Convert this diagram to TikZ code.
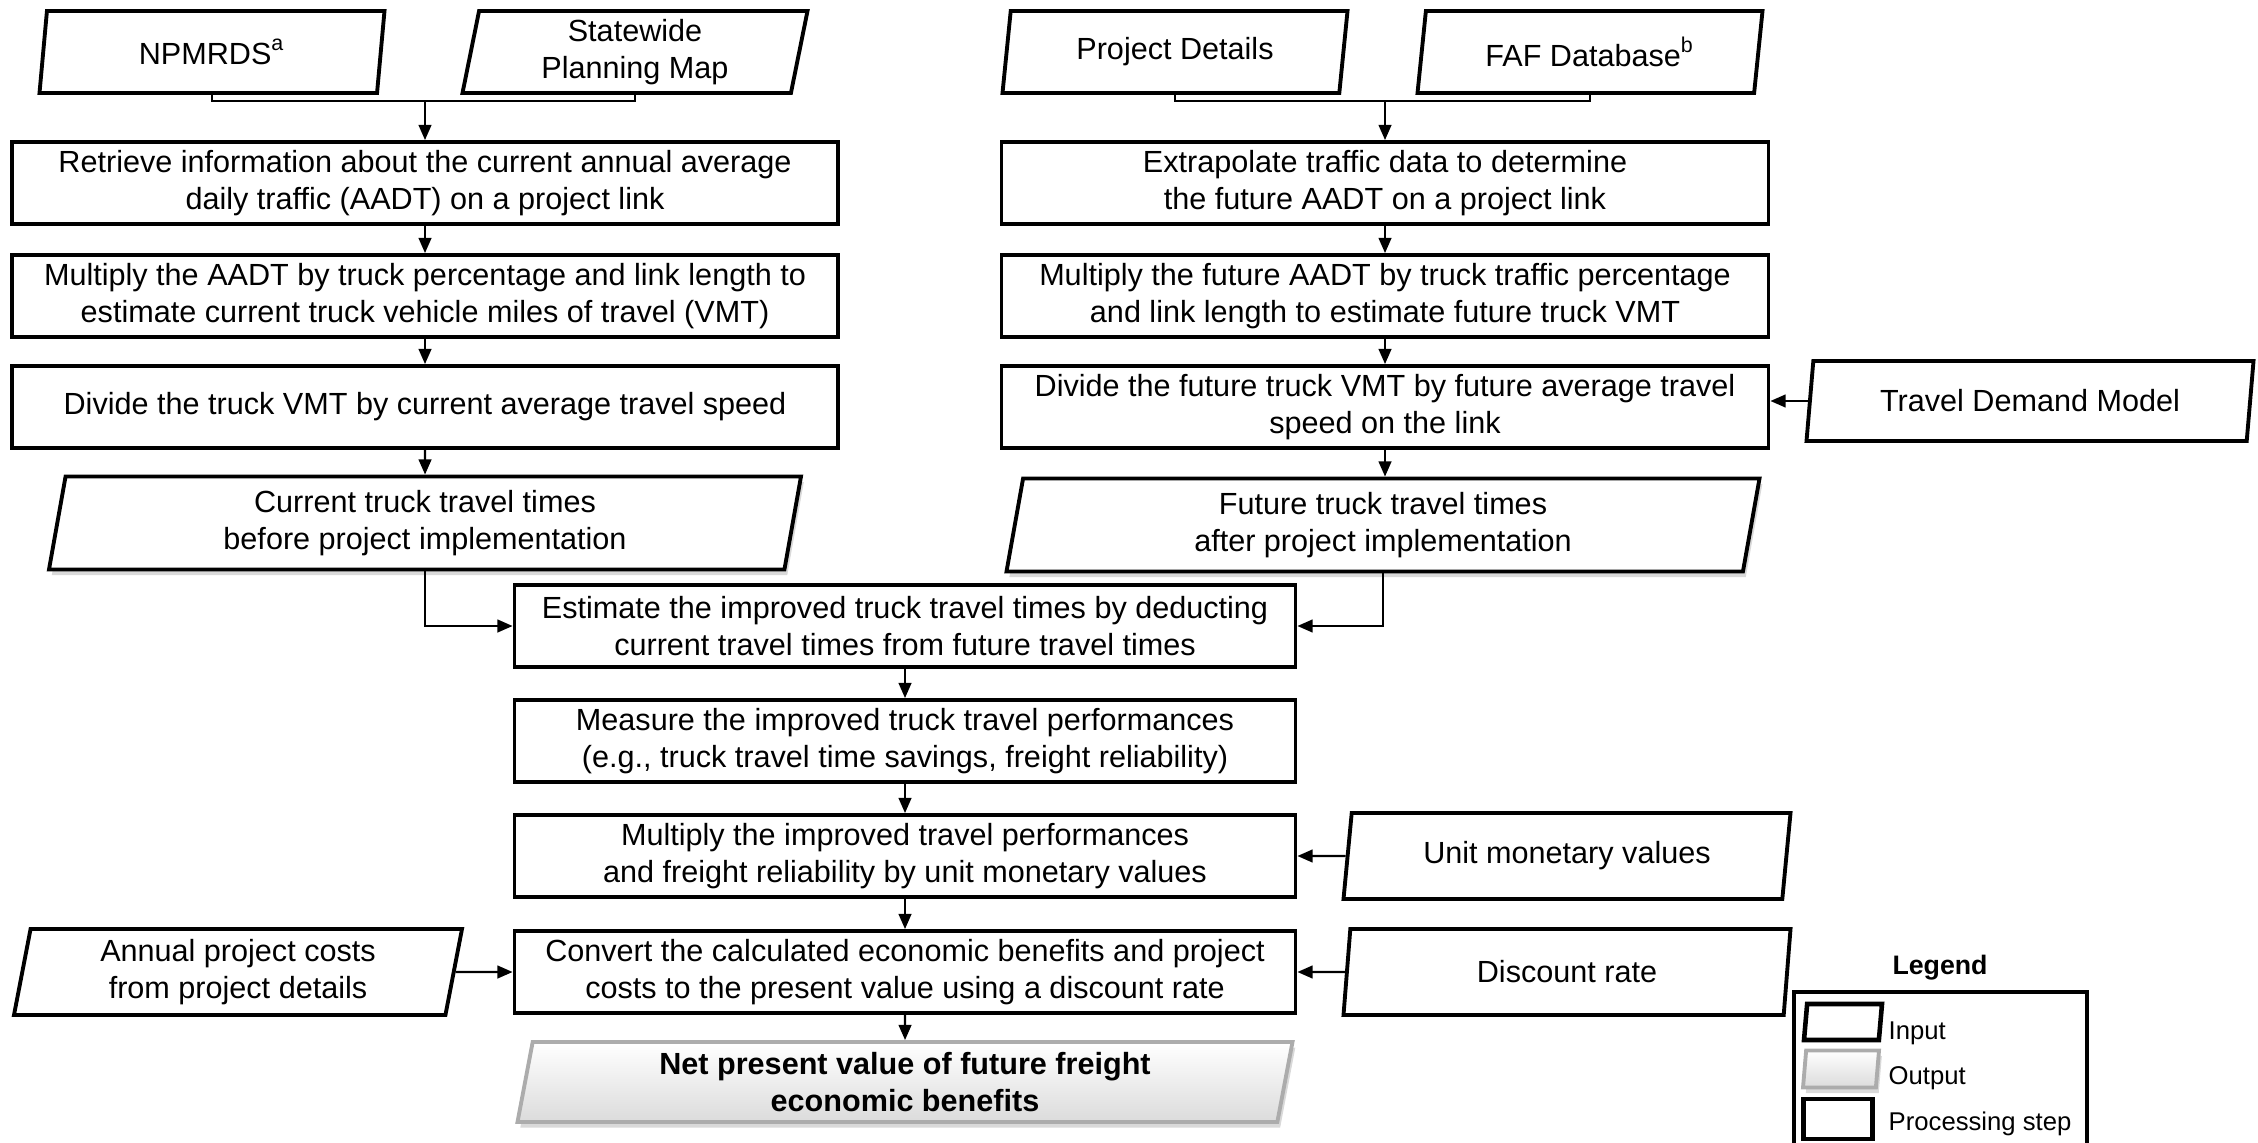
\documentclass[tikz,border=0pt]{standalone}
\usepackage{fontspec}
\setmainfont{Liberation Sans}
\usetikzlibrary{shapes.geometric,arrows.meta,shadows}

\newlength{\du}
\setlength{\du}{0.01cm}
\newcommand{\flowsize}{\fontsize{8.7}{10.3}\selectfont}

\tikzset{
  procstep/.style={draw, line width=1.1pt, rectangle, align=center, inner sep=1pt, minimum height=82\du},
  inputdata/.style={draw, fill=white, line width=1.1pt, trapezium, trapezium left angle=77, trapezium right angle=103,
    trapezium stretches body, align=center, inner sep=1pt, minimum height=82\du},
  outputdata/.style={inputdata, draw=gray!65, line width=1.1pt, top color=white, bottom color=gray!28,
    font=\flowsize\bfseries},
  softshadow/.style={drop shadow={opacity=0.3, shadow xshift=0.8pt, shadow yshift=-1.6pt}},
  flow/.style={line width=0.6pt, -{Triangle[length=4.3pt,width=3.6pt]}},
  joinline/.style={line width=0.45pt},
  lgtext/.style={anchor=west, inner sep=0pt, font=\fontsize{7.3}{8}\selectfont},
}

\begin{document}
\begin{tikzpicture}[x=\du, y=-\du, font=\flowsize]
\useasboundingbox (0,0) rectangle (2258,1143);

% data sources
\node[inputdata, minimum width=345\du] (npmrds) at (212,52) {NPMRDS\textsuperscript{a}};
\node[inputdata, minimum width=345\du] (statewide) at (635,52) {Statewide\\Planning Map};
\node[inputdata, minimum width=345\du] (projdet) at (1175,52) {Project Details};
\node[inputdata, minimum width=345\du] (fafdb) at (1590,52) {FAF Database\textsuperscript{b}};
\coordinate (jl) at (425,101);
\coordinate (jr) at (1385,101);

% current conditions
\node[procstep, minimum width=826\du] (retrieve) at (425,183) {Retrieve information about the current annual average\\daily traffic (AADT) on a project link};
\node[procstep, minimum width=826\du] (multcur) at (425,296) {Multiply the AADT by truck percentage and link length to\\estimate current truck vehicle miles of travel (VMT)};
\node[procstep, minimum width=826\du] (divcur) at (425,407) {Divide the truck VMT by current average travel speed};
\node[inputdata, softshadow, minimum width=752\du, minimum height=93\du] (curtimes) at (425,523) {Current truck travel times\\before project implementation};

% future conditions
\node[procstep, minimum width=767\du] (extrap) at (1385,183) {Extrapolate traffic data to determine\\the future AADT on a project link};
\node[procstep, minimum width=767\du] (multfut) at (1385,296) {Multiply the future AADT by truck traffic percentage\\and link length to estimate future truck VMT};
\node[procstep, minimum width=767\du] (divfut) at (1385,407) {Divide the future truck VMT by future average travel\\speed on the link};
\node[inputdata, minimum width=447\du, minimum height=80\du] (traveldm) at (2030,401) {Travel Demand Model};
\node[inputdata, softshadow, minimum width=753\du, minimum height=93\du] (futtimes) at (1383,525) {Future truck travel times\\after project implementation};

% benefits
\node[procstep, minimum width=781\du] (estimate) at (905,626) {Estimate the improved truck travel times by deducting\\current travel times from future travel times};
\node[procstep, minimum width=781\du] (measure) at (905,741) {Measure the improved truck travel performances\\(e.g., truck travel time savings, freight reliability)};
\node[procstep, minimum width=781\du] (multimp) at (905,856) {Multiply the improved travel performances\\and freight reliability by unit monetary values};
\node[inputdata, minimum width=447\du, minimum height=86\du] (unitval) at (1567,856) {Unit monetary values};
\node[procstep, minimum width=781\du] (convert) at (905,972) {Convert the calculated economic benefits and project\\costs to the present value using a discount rate};
\node[inputdata, minimum width=448\du, minimum height=86\du] (annual) at (238,972) {Annual project costs\\from project details};
\node[inputdata, minimum width=447\du, minimum height=86\du] (discount) at (1567,972) {Discount rate};
\node[outputdata, softshadow, minimum width=775\du, minimum height=80\du] (npv) at (905,1082) {Net present value of future freight\\economic benefits};

% connectors
\draw[joinline] (npmrds.south) |- (jl) -| (statewide.south);
\draw[joinline] (projdet.south) |- (jr) -| (fafdb.south);
\draw[flow] (jl) -- (retrieve.north);
\draw[flow] (jr) -- (extrap.north);
\draw[flow] (retrieve) -- (multcur);
\draw[flow] (multcur) -- (divcur);
\draw[flow] (divcur) -- (curtimes);
\draw[flow] (extrap) -- (multfut);
\draw[flow] (multfut) -- (divfut);
\draw[flow] (divfut.south) -- (divfut.south |- futtimes.north);
\draw[flow] (traveldm.west) -- (traveldm.west -| divfut.east);
\draw[flow] (curtimes.south) |- (estimate.west);
\draw[flow] (futtimes.south) |- (estimate.east);
\draw[flow] (estimate) -- (measure);
\draw[flow] (measure) -- (multimp);
\draw[flow] (unitval) -- (multimp);
\draw[flow] (multimp) -- (convert);
\draw[flow] (annual) -- (convert);
\draw[flow] (discount) -- (convert);
\draw[flow] (convert) -- (npv);

% legend
\node[font=\fontsize{7.6}{9}\selectfont\bfseries] (legtitle) at (1940,968) {Legend};
\draw[line width=1.2pt] (1794,1160) |- (2087,992) -- (2087,1160);
\node[inputdata, line width=1.3pt, trapezium left angle=66, trapezium right angle=114,
  minimum width=78\du, minimum height=36\du] (leginput) at (1843,1022) {};
\node[outputdata, softshadow, trapezium left angle=66, trapezium right angle=114,
  minimum width=76\du, minimum height=37\du] (legoutput) at (1841,1069) {};
\node[procstep, line width=1.3pt, minimum width=69\du, minimum height=40\du] (legproc) at (1838,1119) {};
\node[lgtext] (lginput) at (1888,1033) {Input};
\node[lgtext] (lgoutput) at (1888,1078) {Output};
\node[lgtext] (lgproc) at (1888,1124) {Processing step};
\end{tikzpicture}
\end{document}
